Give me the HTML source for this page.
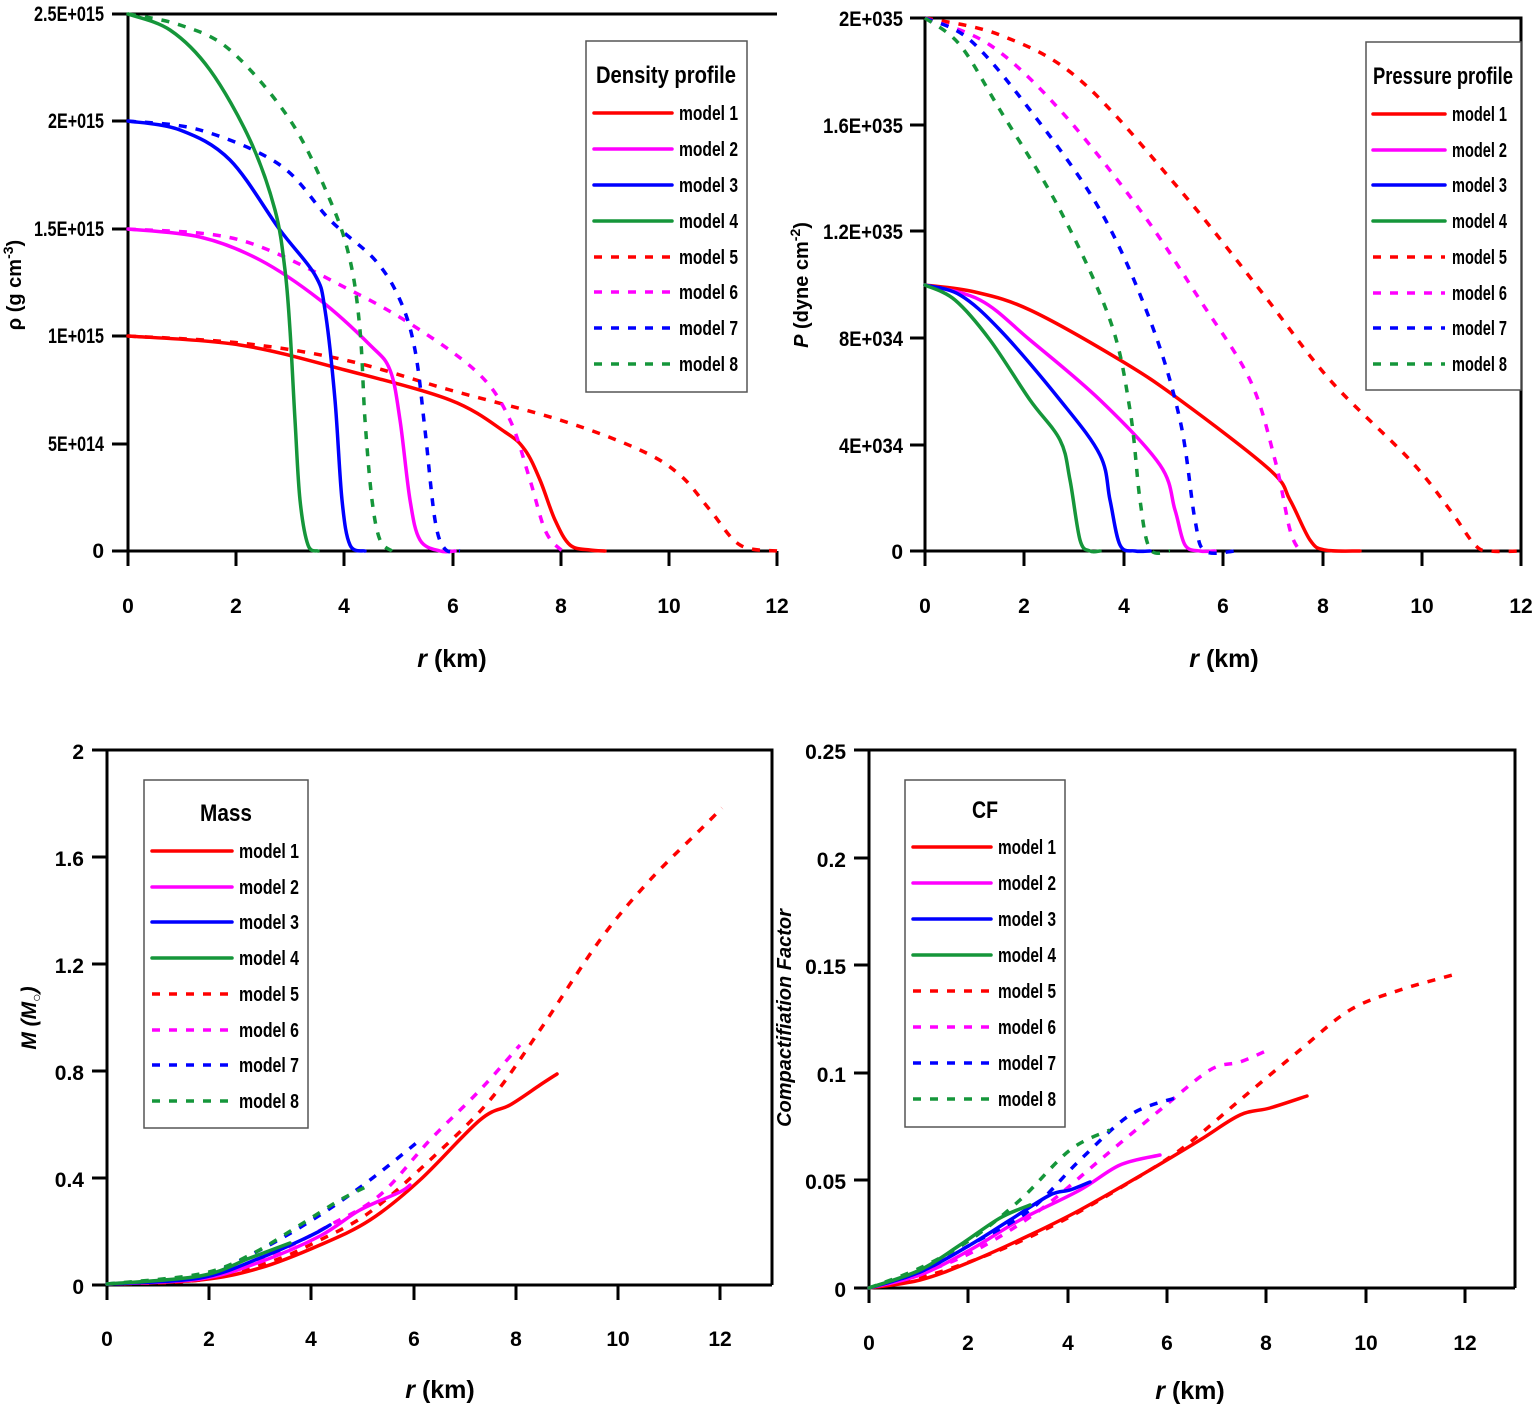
<!DOCTYPE html>
<html><head><meta charset="utf-8"><style>
html,body{margin:0;padding:0;background:#fff;}
svg{display:block;}
text{font-family:"Liberation Sans",sans-serif;font-weight:bold;fill:#000;}
.t{font-size:21px;}
.lg{font-size:20px;}
.s{fill:none;stroke-width:3.5;stroke-linejoin:round;stroke-linecap:round;}
.d{fill:none;stroke-width:3.5;stroke-dasharray:8 9;stroke-linejoin:round;}
.ax{fill:none;stroke:#000;stroke-width:3;}
.r{stroke:#f00}.m{stroke:#f0f}.b{stroke:#00f}.g{stroke:#15963a}
</style></head><body>
<svg id="sv" width="1534" height="1409" viewBox="0 0 1534 1409" xmlns="http://www.w3.org/2000/svg">
<!-- PANEL 1 -->
<path class="ax" d="M128,14 H777 M128,14 V551 H777"/>
<g stroke="#000" stroke-width="3">
<path d="M112,14H128M112,121H128M112,229H128M112,336H128M112,444H128M112,551H128"/>
<path d="M128,551V566M236,551V566M344,551V566M453,551V566M561,551V566M669,551V566M777,551V566"/>
</g>
<g class="t" text-anchor="end">
<text x="104" y="21" textLength="70" lengthAdjust="spacingAndGlyphs">2.5E+015</text>
<text x="104" y="128" textLength="56" lengthAdjust="spacingAndGlyphs">2E+015</text>
<text x="104" y="236" textLength="70" lengthAdjust="spacingAndGlyphs">1.5E+015</text>
<text x="104" y="343" textLength="56" lengthAdjust="spacingAndGlyphs">1E+015</text>
<text x="104" y="451" textLength="56" lengthAdjust="spacingAndGlyphs">5E+014</text>
<text x="104" y="558">0</text>
</g>
<g class="t" text-anchor="middle" font-size="24">
<text x="128" y="613">0</text><text x="236" y="613">2</text><text x="344" y="613">4</text><text x="453" y="613">6</text><text x="561" y="613">8</text><text x="669" y="613">10</text><text x="777" y="613">12</text>
</g>
<text x="452" y="667" font-size="25" text-anchor="middle"><tspan font-style="italic">r</tspan> (km)</text>
<text transform="translate(21,285) rotate(-90)" font-size="20" text-anchor="middle">ρ (g cm<tspan dy="-8" font-size="14">-3</tspan><tspan dy="8">)</tspan></text>
<polyline class="s r" points="128,336 240,345 345,370 450,400 505,432 525,450 540,480 555,520 570,545 590,550 605,551"/>
<polyline class="d r" points="128,336 240,343 345,360 450,390 560,420 640,450 680,475 710,510 740,545 777,551"/>
<polyline class="s m" points="128,229 200,237 260,260 320,300 370,345 390,370 400,420 410,500 420,540 440,551 455,551"/>
<polyline class="d m" points="128,229 240,240 350,290 420,330 480,375 510,420 530,480 545,530 560,549 570,551"/>
<polyline class="s b" points="128,121 180,130 230,160 280,230 315,275 325,310 335,400 342,500 350,545 365,551"/>
<polyline class="d b" points="128,121 200,130 280,165 330,220 375,260 400,300 415,350 425,430 435,520 445,549 460,551"/>
<polyline class="s g" points="128,14 170,30 210,70 250,140 275,210 285,270 290,330 295,420 300,500 308,545 318,551"/>
<polyline class="d g" points="128,14 180,25 230,50 290,120 330,200 350,260 360,330 365,420 372,500 380,540 392,551"/>
<rect x="586" y="41" width="161" height="351" fill="#fff" stroke="#555" stroke-width="1.5"/>
<text x="666" y="83" font-size="24" text-anchor="middle" textLength="140" lengthAdjust="spacingAndGlyphs">Density profile</text>
<g>
<line class="s r" x1="594" y1="113" x2="672" y2="113"/><line class="s m" x1="594" y1="149" x2="672" y2="149"/>
<line class="s b" x1="594" y1="185" x2="672" y2="185"/><line class="s g" x1="594" y1="221" x2="672" y2="221"/>
<line class="d r" x1="594" y1="257" x2="672" y2="257"/><line class="d m" x1="594" y1="292" x2="672" y2="292"/>
<line class="d b" x1="594" y1="328" x2="672" y2="328"/><line class="d g" x1="594" y1="364" x2="672" y2="364"/>
</g>
<g class="lg">
<text x="679" y="120" textLength="59" lengthAdjust="spacingAndGlyphs">model 1</text><text x="679" y="156" textLength="59" lengthAdjust="spacingAndGlyphs">model 2</text>
<text x="679" y="192" textLength="59" lengthAdjust="spacingAndGlyphs">model 3</text><text x="679" y="228" textLength="59" lengthAdjust="spacingAndGlyphs">model 4</text>
<text x="679" y="264" textLength="59" lengthAdjust="spacingAndGlyphs">model 5</text><text x="679" y="299" textLength="59" lengthAdjust="spacingAndGlyphs">model 6</text>
<text x="679" y="335" textLength="59" lengthAdjust="spacingAndGlyphs">model 7</text><text x="679" y="371" textLength="59" lengthAdjust="spacingAndGlyphs">model 8</text>
</g>

<!-- PANEL 2 -->
<path class="ax" d="M925,18 H1521 V551 M925,18 V551 H1521"/>
<g stroke="#000" stroke-width="3">
<path d="M910,18H925M910,125H925M910,231H925M910,338H925M910,445H925M910,551H925"/>
<path d="M925,551V566M1024,551V566M1124,551V566M1223,551V566M1323,551V566M1422,551V566M1521,551V566"/>
</g>
<g class="t" text-anchor="end">
<text x="903" y="26" textLength="64" lengthAdjust="spacingAndGlyphs">2E+035</text>
<text x="903" y="133" textLength="80" lengthAdjust="spacingAndGlyphs">1.6E+035</text>
<text x="903" y="239" textLength="80" lengthAdjust="spacingAndGlyphs">1.2E+035</text>
<text x="903" y="346" textLength="64" lengthAdjust="spacingAndGlyphs">8E+034</text>
<text x="903" y="453" textLength="64" lengthAdjust="spacingAndGlyphs">4E+034</text>
<text x="903" y="559">0</text>
</g>
<g class="t" text-anchor="middle" font-size="24">
<text x="925" y="613">0</text><text x="1024" y="613">2</text><text x="1124" y="613">4</text><text x="1223" y="613">6</text><text x="1323" y="613">8</text><text x="1422" y="613">10</text><text x="1521" y="613">12</text>
</g>
<text x="1224" y="667" font-size="25" text-anchor="middle"><tspan font-style="italic">r</tspan> (km)</text>
<text transform="translate(808,285) rotate(-90)" font-size="20" text-anchor="middle"><tspan font-style="italic">P</tspan> (dyne cm<tspan dy="-8" font-size="14">-2</tspan><tspan dy="8">)</tspan></text>
<polyline class="s r" points="925,285 975,292 1030,310 1120,360 1180,400 1270,470 1290,500 1310,540 1325,550 1360,551"/>
<polyline class="d r" points="925,18 1000,35 1080,80 1180,190 1260,290 1330,380 1410,460 1450,510 1475,545 1490,551 1521,551"/>
<polyline class="s m" points="925,285 980,300 1030,340 1100,400 1160,465 1175,510 1185,545 1200,551 1215,551"/>
<polyline class="d m" points="925,18 990,45 1060,110 1140,210 1200,300 1250,380 1275,460 1290,530 1300,551"/>
<polyline class="s b" points="925,285 960,295 1000,330 1060,400 1100,455 1110,500 1120,545 1135,551 1150,551"/>
<polyline class="d b" points="925,18 970,40 1030,110 1100,210 1150,320 1180,420 1195,520 1205,551 1235,551"/>
<polyline class="s g" points="925,285 955,300 990,340 1030,400 1060,440 1070,480 1080,540 1090,551 1100,551"/>
<polyline class="d g" points="925,18 960,45 1000,110 1060,210 1110,320 1130,410 1140,500 1150,549 1170,551"/>
<rect x="1366" y="42" width="155" height="348" fill="#fff" stroke="#555" stroke-width="1.5"/>
<text x="1443" y="84" font-size="24" text-anchor="middle" textLength="140" lengthAdjust="spacingAndGlyphs">Pressure profile</text>
<g>
<line class="s r" x1="1373" y1="114" x2="1445" y2="114"/><line class="s m" x1="1373" y1="150" x2="1445" y2="150"/>
<line class="s b" x1="1373" y1="185" x2="1445" y2="185"/><line class="s g" x1="1373" y1="221" x2="1445" y2="221"/>
<line class="d r" x1="1373" y1="257" x2="1445" y2="257"/><line class="d m" x1="1373" y1="293" x2="1445" y2="293"/>
<line class="d b" x1="1373" y1="328" x2="1445" y2="328"/><line class="d g" x1="1373" y1="364" x2="1445" y2="364"/>
</g>
<g class="lg">
<text x="1452" y="121" textLength="55" lengthAdjust="spacingAndGlyphs">model 1</text><text x="1452" y="157" textLength="55" lengthAdjust="spacingAndGlyphs">model 2</text>
<text x="1452" y="192" textLength="55" lengthAdjust="spacingAndGlyphs">model 3</text><text x="1452" y="228" textLength="55" lengthAdjust="spacingAndGlyphs">model 4</text>
<text x="1452" y="264" textLength="55" lengthAdjust="spacingAndGlyphs">model 5</text><text x="1452" y="300" textLength="55" lengthAdjust="spacingAndGlyphs">model 6</text>
<text x="1452" y="335" textLength="55" lengthAdjust="spacingAndGlyphs">model 7</text><text x="1452" y="371" textLength="55" lengthAdjust="spacingAndGlyphs">model 8</text>
</g>

<!-- PANEL 3 -->
<path class="ax" d="M107,750 H772 V1285 M107,750 V1285 H772"/>
<g stroke="#000" stroke-width="3">
<path d="M92,750H107M92,857H107M92,964H107M92,1071H107M92,1178H107M92,1285H107"/>
<path d="M107,1285V1300M209,1285V1300M311,1285V1300M414,1285V1300M516,1285V1300M618,1285V1300M720,1285V1300"/>
</g>
<g class="t" text-anchor="end" font-size="24">
<text x="84" y="759">2</text><text x="84" y="866">1.6</text><text x="84" y="973">1.2</text><text x="84" y="1080">0.8</text><text x="84" y="1187">0.4</text><text x="84" y="1294">0</text>
</g>
<g class="t" text-anchor="middle" font-size="24">
<text x="107" y="1346">0</text><text x="209" y="1346">2</text><text x="311" y="1346">4</text><text x="414" y="1346">6</text><text x="516" y="1346">8</text><text x="618" y="1346">10</text><text x="720" y="1346">12</text>
</g>
<text x="440" y="1398" font-size="25" text-anchor="middle"><tspan font-style="italic">r</tspan> (km)</text>
<text transform="translate(36,1018) rotate(-90)" font-size="21" text-anchor="middle" font-style="italic">M (M<tspan font-size="14" dy="5">○</tspan><tspan dy="-5">)</tspan></text>
<polyline class="s r" points="107,1284 200,1280 260,1268 320,1245 370,1220 420,1180 480,1120 510,1105 540,1085 557,1074"/>
<polyline class="d r" points="107,1284 200,1280 270,1262 320,1240 370,1212 430,1160 490,1100 540,1030 600,940 650,880 700,830 722,808"/>
<polyline class="s m" points="107,1284 200,1279 260,1262 320,1236 360,1210 400,1192 410,1185"/>
<polyline class="d m" points="107,1284 200,1278 270,1255 330,1225 380,1195 430,1140 480,1090 520,1045"/>
<polyline class="s b" points="107,1284 200,1278 260,1258 310,1236 330,1225"/>
<polyline class="d b" points="107,1284 200,1276 260,1250 320,1215 370,1180 420,1140"/>
<polyline class="s g" points="107,1284 200,1276 250,1258 290,1243"/>
<polyline class="d g" points="107,1284 200,1274 250,1255 300,1225 340,1200 370,1185"/>
<rect x="144" y="780" width="164" height="348" fill="#fff" stroke="#555" stroke-width="1.5"/>
<text x="226" y="821" font-size="24" text-anchor="middle" textLength="52" lengthAdjust="spacingAndGlyphs">Mass</text>
<g>
<line class="s r" x1="152" y1="851" x2="232" y2="851"/><line class="s m" x1="152" y1="887" x2="232" y2="887"/>
<line class="s b" x1="152" y1="922" x2="232" y2="922"/><line class="s g" x1="152" y1="958" x2="232" y2="958"/>
<line class="d r" x1="152" y1="994" x2="232" y2="994"/><line class="d m" x1="152" y1="1030" x2="232" y2="1030"/>
<line class="d b" x1="152" y1="1065" x2="232" y2="1065"/><line class="d g" x1="152" y1="1101" x2="232" y2="1101"/>
</g>
<g class="lg">
<text x="239" y="858" textLength="60" lengthAdjust="spacingAndGlyphs">model 1</text><text x="239" y="894" textLength="60" lengthAdjust="spacingAndGlyphs">model 2</text>
<text x="239" y="929" textLength="60" lengthAdjust="spacingAndGlyphs">model 3</text><text x="239" y="965" textLength="60" lengthAdjust="spacingAndGlyphs">model 4</text>
<text x="239" y="1001" textLength="60" lengthAdjust="spacingAndGlyphs">model 5</text><text x="239" y="1037" textLength="60" lengthAdjust="spacingAndGlyphs">model 6</text>
<text x="239" y="1072" textLength="60" lengthAdjust="spacingAndGlyphs">model 7</text><text x="239" y="1108" textLength="60" lengthAdjust="spacingAndGlyphs">model 8</text>
</g>

<!-- PANEL 4 -->
<path class="ax" d="M869,750 H1515 V1288 M869,750 V1288 H1515"/>
<g stroke="#000" stroke-width="3">
<path d="M854,750H869M854,858H869M854,965H869M854,1073H869M854,1180H869M854,1288H869"/>
<path d="M869,1288V1303M968,1288V1303M1068,1288V1303M1167,1288V1303M1266,1288V1303M1366,1288V1303M1465,1288V1303"/>
</g>
<g class="t" text-anchor="end" font-size="24">
<text x="846" y="759">0.25</text><text x="846" y="867">0.2</text><text x="846" y="974">0.15</text><text x="846" y="1082">0.1</text><text x="846" y="1189">0.05</text><text x="846" y="1297">0</text>
</g>
<g class="t" text-anchor="middle" font-size="24">
<text x="869" y="1350">0</text><text x="968" y="1350">2</text><text x="1068" y="1350">4</text><text x="1167" y="1350">6</text><text x="1266" y="1350">8</text><text x="1366" y="1350">10</text><text x="1465" y="1350">12</text>
</g>
<text x="1190" y="1399" font-size="25" text-anchor="middle"><tspan font-style="italic">r</tspan> (km)</text>
<text transform="translate(791,1018) rotate(-90)" font-size="20" text-anchor="middle" font-style="italic">Compactifiation Factor</text>
<polyline class="s r" points="869,1288 920,1280 970,1262 1030,1235 1080,1210 1150,1170 1200,1140 1240,1115 1270,1108 1307,1096"/>
<polyline class="d r" points="869,1288 930,1275 1000,1250 1060,1222 1120,1188 1180,1150 1240,1100 1300,1050 1350,1010 1400,990 1460,973"/>
<polyline class="s m" points="869,1288 920,1275 970,1250 1020,1220 1080,1190 1120,1165 1160,1155"/>
<polyline class="d m" points="869,1288 930,1270 980,1248 1040,1210 1100,1160 1160,1110 1210,1070 1240,1062 1268,1050"/>
<polyline class="s b" points="869,1288 920,1272 970,1245 1010,1220 1050,1195 1070,1190 1090,1182"/>
<polyline class="d b" points="869,1288 920,1272 970,1245 1030,1210 1080,1160 1130,1115 1175,1098"/>
<polyline class="s g" points="869,1288 920,1270 960,1245 1000,1218 1030,1205"/>
<polyline class="d g" points="869,1288 920,1268 970,1240 1020,1200 1070,1150 1110,1130"/>
<rect x="905" y="780" width="160" height="347" fill="#fff" stroke="#555" stroke-width="1.5"/>
<text x="985" y="818" font-size="24" text-anchor="middle" textLength="26" lengthAdjust="spacingAndGlyphs">CF</text>
<g>
<line class="s r" x1="913" y1="847" x2="991" y2="847"/><line class="s m" x1="913" y1="883" x2="991" y2="883"/>
<line class="s b" x1="913" y1="919" x2="991" y2="919"/><line class="s g" x1="913" y1="955" x2="991" y2="955"/>
<line class="d r" x1="913" y1="991" x2="991" y2="991"/><line class="d m" x1="913" y1="1027" x2="991" y2="1027"/>
<line class="d b" x1="913" y1="1063" x2="991" y2="1063"/><line class="d g" x1="913" y1="1099" x2="991" y2="1099"/>
</g>
<g class="lg">
<text x="998" y="854" textLength="58" lengthAdjust="spacingAndGlyphs">model 1</text><text x="998" y="890" textLength="58" lengthAdjust="spacingAndGlyphs">model 2</text>
<text x="998" y="926" textLength="58" lengthAdjust="spacingAndGlyphs">model 3</text><text x="998" y="962" textLength="58" lengthAdjust="spacingAndGlyphs">model 4</text>
<text x="998" y="998" textLength="58" lengthAdjust="spacingAndGlyphs">model 5</text><text x="998" y="1034" textLength="58" lengthAdjust="spacingAndGlyphs">model 6</text>
<text x="998" y="1070" textLength="58" lengthAdjust="spacingAndGlyphs">model 7</text><text x="998" y="1106" textLength="58" lengthAdjust="spacingAndGlyphs">model 8</text>
</g>
</svg>
<script>
(function(){
var NS="http://www.w3.org/2000/svg";
var pl=document.querySelectorAll("polyline");
for(var i=0;i<pl.length;i++){
 var p=pl[i], pts=p.getAttribute("points").trim().split(/\s+/).map(function(s){return s.split(",").map(Number);});
 var d="M"+pts[0][0]+","+pts[0][1];
 for(var k=0;k<pts.length-1;k++){
  var p0=pts[k>0?k-1:k],p1=pts[k],p2=pts[k+1],p3=pts[k+2<pts.length?k+2:k+1];
  var c1x=p1[0]+(p2[0]-p0[0])/6,c1y=p1[1]+(p2[1]-p0[1])/6;
  var c2x=p2[0]-(p3[0]-p1[0])/6,c2y=p2[1]-(p3[1]-p1[1])/6;
  d+=" C"+c1x.toFixed(1)+","+c1y.toFixed(1)+" "+c2x.toFixed(1)+","+c2y.toFixed(1)+" "+p2[0]+","+p2[1];
 }
 var np=document.createElementNS(NS,"path");
 np.setAttribute("d",d);np.setAttribute("class",p.getAttribute("class"));
 p.parentNode.replaceChild(np,p);
}
})();
</script>
</body></html>
